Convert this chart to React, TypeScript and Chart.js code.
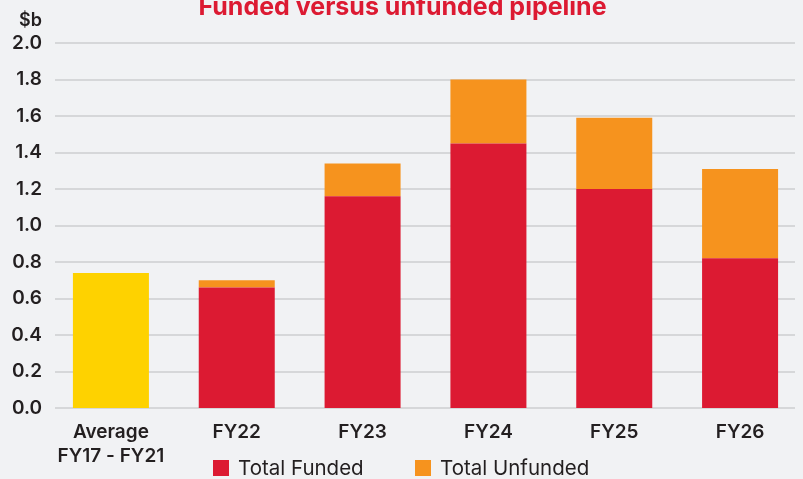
import React, { useEffect, useRef } from "react";
import { Chart, registerables } from "chart.js";

Chart.register(...registerables);

const chartTitle = "Funded versus unfunded pipeline";
const unitLabel = "$b";
const categories: (string | string[])[] = [["Average", "FY17 - FY21"], "FY22", "FY23", "FY24", "FY25", "FY26"];
const averageValues = [0.74, null, null, null, null, null];
const fundedValues = [null, 0.66, 1.16, 1.45, 1.2, 0.82];
const unfundedValues = [null, 0.04, 0.18, 0.35, 0.39, 0.49];
const yTickValues = [0, 0.2, 0.4, 0.6, 0.8, 1.0, 1.2, 1.4, 1.6, 1.8, 2.0];
const legendLabels = ["Total Funded", "Total Unfunded"];

const BG = "#F1F2F4";
const YELLOW = "#FED200";
const RED = "#DC1A32";
const ORANGE = "#F6931E";
const GRID = "#D6D7D9";
const TEXT = "#231F20";
const FONT = "Inter, 'Noto Sans', sans-serif";

const gridPlugin = {
  id: "customGrid",
  beforeDatasetsDraw(chart: any) {
    const { ctx, chartArea, scales } = chart;
    const y = scales.y;
    ctx.save();
    ctx.strokeStyle = GRID;
    ctx.lineWidth = 2;
    y.ticks.forEach((t: any) => {
      const py = Math.round(y.getPixelForValue(t.value));
      ctx.beginPath();
      ctx.moveTo(chartArea.left + 7, py);
      ctx.lineTo(chartArea.right - 8, py);
      ctx.stroke();
    });
    ctx.restore();
  },
};

const overlayPlugin = {
  id: "overlayText",
  afterDraw(chart: any) {
    const { ctx, chartArea, width } = chart;
    ctx.save();
    // title
    ctx.fillStyle = RED;
    ctx.font = `700 25px ${FONT}`;
    ctx.textAlign = "center";
    ctx.textBaseline = "alphabetic";
    ctx.fillText(chartTitle, width / 2 + 1, 15);
    // unit label
    ctx.fillStyle = TEXT;
    ctx.font = `600 18px ${FONT}`;
    ctx.textAlign = "right";
    ctx.fillText(unitLabel, chartArea.left - 6, 26);
    // legend
    const colors = [RED, ORANGE];
    const starts = [213, 415];
    ctx.font = `400 20.5px ${FONT}`;
    ctx.textAlign = "left";
    legendLabels.forEach((label, i) => {
      ctx.fillStyle = colors[i];
      ctx.fillRect(starts[i], 460, 16, 16);
      ctx.fillStyle = TEXT;
      ctx.fillText(label, starts[i] + 25, 475);
    });
    ctx.restore();
  },
};

export default function App() {
  const canvasRef = useRef<HTMLCanvasElement | null>(null);

  useEffect(() => {
    const canvas = canvasRef.current;
    if (!canvas) return;
    const chart = new Chart(canvas, {
      type: "bar",
      data: {
        labels: categories as any,
        datasets: [
          { label: "Average FY17 - FY21", data: averageValues as any, backgroundColor: YELLOW, stack: "s" },
          { label: legendLabels[0], data: fundedValues as any, backgroundColor: RED, stack: "s" },
          { label: legendLabels[1], data: unfundedValues as any, backgroundColor: ORANGE, stack: "s" },
        ],
      },
      options: {
        animation: false,
        responsive: false,
        maintainAspectRatio: false,
        devicePixelRatio: 1,
        layout: { padding: { top: 43, left: 0, right: 0, bottom: 0 } },
        datasets: { bar: { categoryPercentage: 1, barPercentage: 0.604, borderWidth: 0 } },
        plugins: {
          legend: { display: false },
          title: { display: false },
          tooltip: { enabled: false },
        },
        scales: {
          x: {
            stacked: true,
            grid: { display: false, drawTicks: false },
            border: { display: false },
            ticks: {
              color: TEXT,
              font: { family: FONT, size: 19, weight: "600", lineHeight: 24 / 19 },
              padding: 12,
              maxRotation: 0,
              autoSkip: false,
            },
            afterFit(scale: any) {
              scale.height = 71;
            },
          },
          y: {
            stacked: true,
            min: 0,
            max: 2,
            grid: { display: false, drawTicks: false },
            border: { display: false },
            afterBuildTicks(scale: any) {
              scale.ticks = yTickValues.map((v) => ({ value: v }));
            },
            ticks: {
              color: TEXT,
              font: { family: FONT, size: 19, weight: "600" },
              padding: 6,
              callback: (v: any) => Number(v).toFixed(1),
            },
            afterFit(scale: any) {
              scale.width = 48;
            },
          },
        },
      },
      plugins: [gridPlugin, overlayPlugin],
    });
    return () => chart.destroy();
  }, []);

  return (
    <div style={{ position: "fixed", left: 0, top: 0, width: 803, height: 479, background: BG, overflow: "hidden" }}>
      <canvas ref={canvasRef} width={803} height={479} style={{ display: "block", width: 803, height: 479 }} />
    </div>
  );
}
